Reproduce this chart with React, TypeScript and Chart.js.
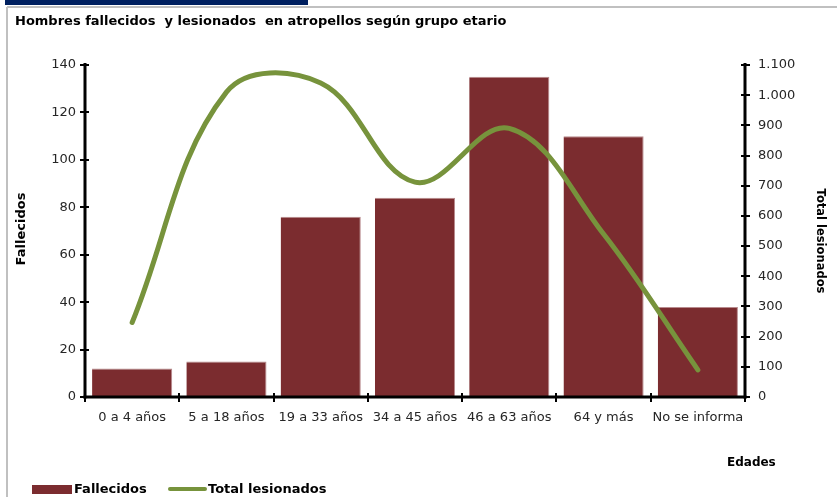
import React, { useEffect, useRef } from "react";
import { Chart, registerables } from "chart.js";

Chart.register(...registerables);

const categories = ["0 a 4 años", "5 a 18 años", "19 a 33 años", "34 a 45 años", "46 a 63 años", "64 y más", "No se informa"];
const fallecidos = [12, 15, 76, 84, 135, 110, 38];
const totalLesionados = [247, 1010, 1040, 712, 890, 540, 90];

const leftMax = 140;
const leftStep = 20;
const rightMax = 1100;
const rightStep = 100;

const titleText = "Hombres fallecidos  y lesionados  en atropellos según grupo etario";
const leftTitle = "Fallecidos";
const rightTitle = "Total lesionados";
const xTitle = "Edades";

const BAR = "#7B2C2F";
const LINE = "#77933C";
const FONT = "'DejaVu Sans', Verdana, sans-serif";

const fmtThousands = (v: number) => String(v).replace(/\B(?=(\d{3})+(?!\d))/g, ".");

const decoPlugin = {
  id: "deco",
  beforeDraw(chart: any) {
    const ctx = chart.ctx;
    ctx.save();
    ctx.fillStyle = "#ffffff";
    ctx.fillRect(0, 0, chart.width, chart.height);
    ctx.fillStyle = "#002060";
    ctx.fillRect(5, 0, 303, 5);
    ctx.strokeStyle = "#c0c0c0";
    ctx.lineWidth = 2;
    ctx.beginPath();
    ctx.moveTo(7, 7);
    ctx.lineTo(chart.width, 7);
    ctx.moveTo(7, 7);
    ctx.lineTo(7, chart.height);
    ctx.stroke();
    ctx.restore();
  },
  afterDatasetsDraw(chart: any) {
    const ctx = chart.ctx;
    const { left, right, top, bottom } = chart.chartArea;
    const { x, y, y1 } = chart.scales;
    ctx.save();
    ctx.strokeStyle = "#000";
    ctx.lineCap = "butt";
    ctx.lineWidth = 3;
    const ln = (a: number, b: number, c: number, d: number) => {
      ctx.beginPath();
      ctx.moveTo(a, b);
      ctx.lineTo(c, d);
      ctx.stroke();
    };
    ln(left, top - 2, left, bottom + 1.5);
    ln(right, top - 2, right, bottom + 1.5);
    ln(left - 1.5, bottom, right + 1.5, bottom);
    ctx.lineWidth = 2;
    y.ticks.forEach((t: any) => {
      const py = Math.round(y.getPixelForValue(t.value));
      ln(left - 5, py, left + 4, py);
    });
    y1.ticks.forEach((t: any) => {
      const py = Math.round(y1.getPixelForValue(t.value));
      ln(right - 4, py, right + 5, py);
    });
    for (let i = 0; i <= categories.length; i++) {
      const px = Math.round(x.getPixelForValue(i - 0.5));
      ln(px, bottom - 4, px, bottom + 5);
    }

    // texts
    ctx.fillStyle = "#000";
    ctx.textBaseline = "middle";
    ctx.textAlign = "left";
    ctx.font = `bold 13px ${FONT}`;
    ctx.fillText(titleText, 15, 22);

    const midY = (top + bottom) / 2;
    ctx.save();
    ctx.translate(22, midY - 2);
    ctx.rotate(-Math.PI / 2);
    ctx.textAlign = "center";
    ctx.font = `bold 13px ${FONT}`;
    ctx.fillText(leftTitle, 0, 0);
    ctx.restore();

    ctx.save();
    ctx.translate(820, midY + 10);
    ctx.rotate(Math.PI / 2);
    ctx.textAlign = "center";
    ctx.font = `bold 11.5px ${FONT}`;
    ctx.fillText(rightTitle, 0, 0);
    ctx.restore();

    ctx.textAlign = "left";
    ctx.font = `bold 12px ${FONT}`;
    ctx.fillText(xTitle, 727, 463);

    // legend
    ctx.font = `bold 13px ${FONT}`;
    ctx.fillStyle = BAR;
    ctx.fillRect(32, 485, 40, 9);
    ctx.fillStyle = "#000";
    ctx.fillText(leftTitle, 74, 490);
    ctx.strokeStyle = LINE;
    ctx.lineWidth = 4;
    ctx.lineCap = "round";
    ln(170, 489, 205, 489);
    ctx.fillStyle = "#000";
    ctx.fillText(rightTitle, 208, 490);
    ctx.restore();
  },
};

export default function App() {
  const ref = useRef<HTMLCanvasElement | null>(null);
  useEffect(() => {
    if (!ref.current) return;
    const chart = new Chart(ref.current, {
      type: "bar",
      data: {
        labels: categories,
        datasets: [
          {
            type: "line",
            label: rightTitle,
            data: totalLesionados,
            yAxisID: "y1",
            borderColor: LINE,
            backgroundColor: LINE,
            borderWidth: 5,
            pointRadius: 0,
            tension: 0.38,
            borderCapStyle: "round",
            borderJoinStyle: "round",
            order: 0,
          } as any,
          {
            type: "bar",
            label: leftTitle,
            data: fallecidos,
            yAxisID: "y",
            backgroundColor: BAR,
            borderColor: "#b88a8d",
            borderWidth: { top: 1, right: 1, left: 0, bottom: 0 },
            borderSkipped: false,
            barPercentage: 0.85,
            categoryPercentage: 1,
            order: 1,
          } as any,
        ],
      },
      options: {
        responsive: false,
        animation: false,
        layout: { padding: { top: 65, left: 0, right: 0, bottom: 0 } },
        plugins: {
          legend: { display: false },
          title: { display: false },
          tooltip: { enabled: false },
        },
        scales: {
          x: {
            offset: true,
            grid: { display: false, drawTicks: false },
            border: { display: false },
            ticks: { color: "#262626", font: { family: FONT, size: 13 }, padding: 13, maxRotation: 0, autoSkip: false },
            afterFit: (s: any) => {
              s.height = 100;
            },
          },
          y: {
            position: "left",
            min: 0,
            max: leftMax,
            grid: { display: false, drawTicks: false },
            border: { display: false },
            ticks: { stepSize: leftStep, color: "#262626", font: { family: FONT, size: 13 }, padding: 9 },
            afterFit: (s: any) => {
              s.width = 85;
            },
          },
          y1: {
            position: "right",
            min: 0,
            max: rightMax,
            grid: { display: false, drawTicks: false },
            border: { display: false },
            ticks: {
              stepSize: rightStep,
              color: "#262626",
              font: { family: FONT, size: 13 },
              padding: 13,
              callback: (v: any) => fmtThousands(Number(v)),
            },
            afterFit: (s: any) => {
              s.width = 92;
            },
          },
        },
      },
      plugins: [decoPlugin],
    });
    return () => chart.destroy();
  }, []);
  return (
    <div style={{ position: "absolute", left: 0, top: 0, width: 837, height: 497 }}>
      <canvas ref={ref} width={837} height={497} />
    </div>
  );
}
